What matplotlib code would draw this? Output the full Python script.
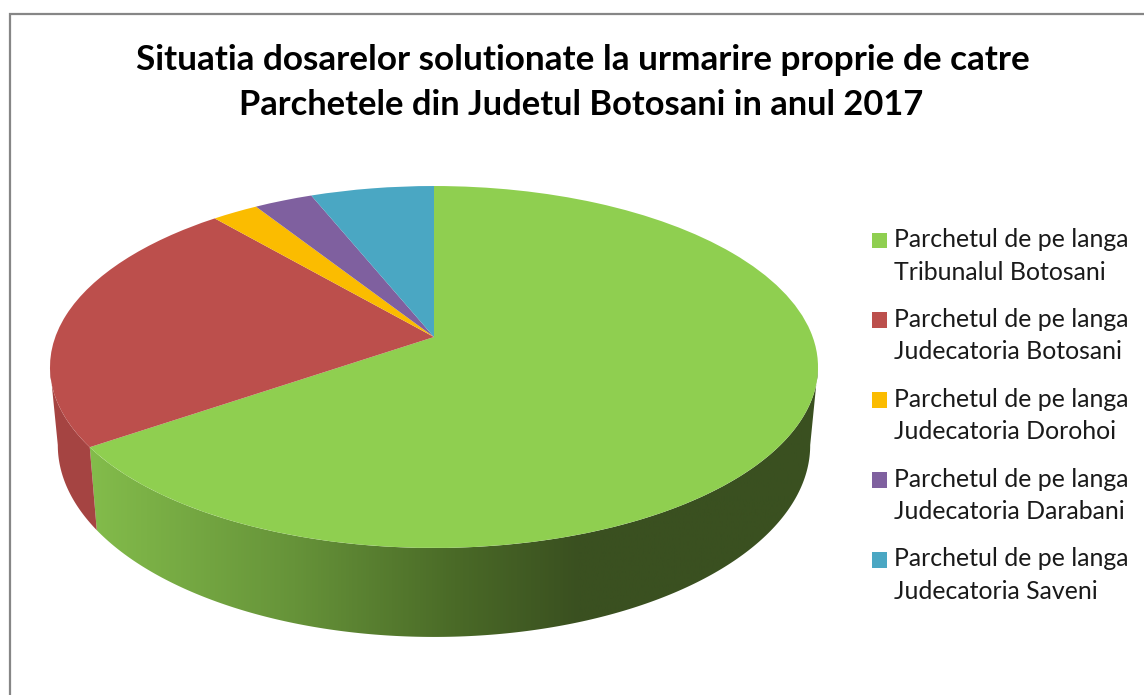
import numpy as np
import matplotlib
matplotlib.use("Agg")
import matplotlib.pyplot as plt
from matplotlib.colors import LinearSegmentedColormap
from matplotlib.patches import Patch, Polygon
from matplotlib.path import Path
from matplotlib.transforms import Transform

title = "Situatia dosarelor solutionate la urmarire proprie de catre\nParchetele din Judetul Botosani in anul 2017"
categories = [
    "Parchetul de pe langa\nTribunalul Botosani",
    "Parchetul de pe langa\nJudecatoria Botosani",
    "Parchetul de pe langa\nJudecatoria Dorohoi",
    "Parchetul de pe langa\nJudecatoria Darabani",
    "Parchetul de pe langa\nJudecatoria Saveni",
]
values = [65.4, 23.3, 2.3, 2.9, 6.1]
colors = ["#8FCF50", "#BC4F4C", "#FBBC00", "#7F609F", "#4AA7C3"]

plt.rcParams["font.family"] = ["Lato", "DejaVu Sans"]


class Disc(Transform):
    """Perspective view of a flat unit disc."""
    input_dims = output_dims = 2
    has_inverse = False

    def __init__(self, cx, cy, rx, ry, k):
        super().__init__()
        self.p = (cx, cy, rx, ry, k)

    def transform_non_affine(self, values):
        cx, cy, rx, ry, k = self.p
        values = np.asarray(values, float)
        d = 1 + k * values[:, 1]
        return np.column_stack([cx + rx * values[:, 0] / d, cy - ry * values[:, 1] / d])

    def transform_path_non_affine(self, path):
        return Path(self.transform_non_affine(path.vertices), path.codes)


top = Disc(434, 337, 378.7, 176, 0.1657)
bottom = Disc(434, 413.4, 371, 186.5, 0.1657)


def rim(disc, a0, a1):
    a = np.radians(np.linspace(a0, a1, 200))
    return disc.transform_non_affine(np.column_stack([np.sin(a), np.cos(a)]))


def wall(a0, a1):
    return np.vstack([rim(top, a0, a1), rim(bottom, a1, a0)])


fig = plt.figure(figsize=(11.44, 6.95), dpi=100, facecolor="white")
ax = fig.add_axes([0, 0, 1, 1])

wedges, _ = ax.pie(values, colors=colors, startangle=90, counterclock=False,
                   radius=1, wedgeprops=dict(linewidth=0))
ax.set_aspect("auto")
ax.set_xlim(0, 1144)
ax.set_ylim(695, 0)
ax.set_frame_on(False)
for w in wedges:
    w.set_transform(top + ax.transData)
    w.set_zorder(5)

ends = np.cumsum(values) / np.sum(values) * 360
tangent = 99.5

green_pts = wall(tangent, ends[0])
cmap = LinearSegmentedColormap.from_list("wall", [
    (0.00, "#3A5020"), (0.33, "#3A5020"), (0.50, "#4A6A27"),
    (0.72, "#669339"), (1.00, "#83BC4B")])
im = ax.imshow(np.linspace(1, 0, 512)[None, :], cmap=cmap, vmin=0, vmax=1, aspect="auto",
               extent=(green_pts[:, 0].min(), green_pts[:, 0].max(), 700, 300), zorder=2)
im.set_clip_path(Polygon(green_pts, closed=True, transform=ax.transData))
ax.set_xlim(0, 1144)
ax.set_ylim(695, 0)

red_pts = wall(ends[0], 360 - tangent)
ax.fill(red_pts[:, 0], red_pts[:, 1], color="#A54442", lw=0, zorder=2)

# chart area frame: left and top edges only
ax.plot([9.5, 9.5, 1144], [695, 14, 14], color="#868686", lw=1.6, zorder=1,
        solid_joinstyle="miter", clip_on=False)

ax.text(582.5, 60, title.split("\n")[0], ha="center", va="center",
        fontsize=25.3, fontweight="bold", color="black")
ax.text(581, 105, title.split("\n")[1], ha="center", va="center",
        fontsize=24.8, fontweight="bold", color="black")

handles = [Patch(facecolor=c, edgecolor="none", label=l) for c, l in zip(colors, categories)]
leg = ax.legend(handles=handles, loc="upper left", bbox_to_anchor=(872 / 1144, 1 - 228 / 695),
                frameon=False, fontsize=17.9, handlelength=0.6, handleheight=0.6,
                handletextpad=0.28, labelspacing=0.98, borderpad=0, borderaxespad=0)
for t in leg.get_texts():
    t.set_linespacing(1.5)
    t.set_color("#1a1a1a")
for h in leg.legend_handles:
    h.set_y(h.get_y() + 11.5)

fig.savefig("out.png", dpi=100, facecolor="white")
